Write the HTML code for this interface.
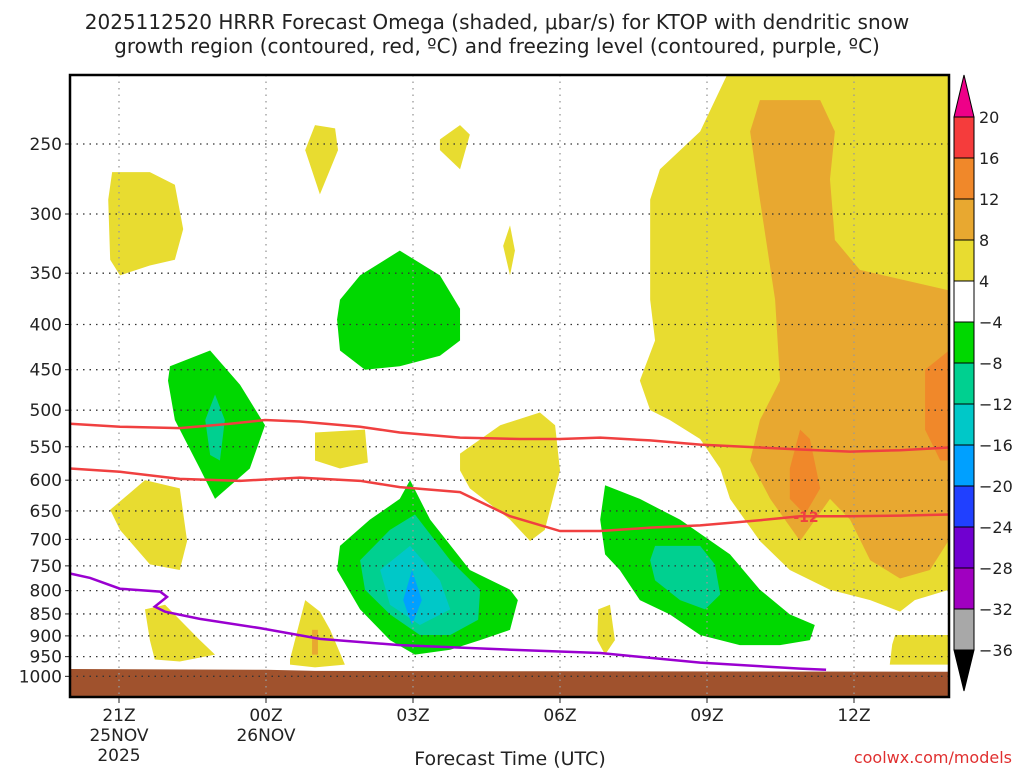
<!DOCTYPE html>
<html><head><meta charset="utf-8"><style>
body{margin:0;background:#fff;width:1024px;height:768px;overflow:hidden;font-family:"Liberation Sans","DejaVu Sans",sans-serif}
svg text{font-family:"DejaVu Sans","Liberation Sans",sans-serif}
</style></head><body>
<svg id="chart" width="1024" height="768" xmlns="http://www.w3.org/2000/svg">
<text x="497" y="29" font-size="20" text-anchor="middle" fill="#222">2025112520 HRRR Forecast Omega (shaded, μbar/s) for KTOP with dendritic snow</text>
<text x="497" y="53" font-size="20" text-anchor="middle" fill="#222">growth region (contoured, red, ºC) and freezing level (contoured, purple, ºC)</text>
<g id="fills"></g><g id="grid"></g><g id="lines"></g><g id="axes"></g><g id="cbar"></g>
<text x="510" y="765" font-size="19" text-anchor="middle" fill="#222">Forecast Time (UTC)</text>
<text x="1012" y="763" font-size="16" text-anchor="end" fill="#e03030">coolwx.com/models</text>
</svg>
<script>
const X0=70,X1=949,Y0=75,Y1=697;
function xs(h){return X0+49*h;}
function ys(p){return 144+384*Math.log(p/250);}
const pTicks=[250,300,350,400,450,500,550,600,650,700,750,800,850,900,950,1000];
const tHours=[1,4,7,10,13,16];
const tLabels=[["21Z","25NOV","2025"],["00Z","26NOV"],["03Z"],["06Z"],["09Z"],["12Z"]];
const cbLevels=["20","16","12","8","4","\u22124","\u22128","\u221212","\u221216","\u221220","\u221224","\u221228","\u221232","\u221236"];
const cbColors=["#f53c3c","#f0882a","#e8a830","#e8dc30","#ffffff","#00d800","#00d090","#00c8c8","#00a0ff","#2040ff","#7000d0","#a000c0","#a8a8a8"];
const C={y:"#e8dc30",o:"#e8a830",r:"#f0882a",g:"#00d800",m:"#00d090",c:"#00c8c8",b:"#00a0ff"};
const regions=[
["y",[[13.57,200],[17.94,200],[17.94,798],[17.24,820],[16.94,845],[16.33,820],[15.51,798],[14.69,758],[14.08,703],[13.47,630],[13.27,582],[12.86,539],[12.24,513],[11.84,500],[11.63,463],[11.94,417],[11.84,375],[11.84,289],[12.04,267],[12.86,242]]],
["o",[[14.08,223],[15.31,223],[15.61,242],[15.51,274],[15.61,321],[16.12,347],[17.94,366],[17.94,701],[17.55,758],[16.94,775],[16.33,739],[15.92,665],[15.51,630],[14.9,703],[14.29,630],[13.88,570],[14.08,513],[14.49,463],[14.39,375],[14.08,289],[13.88,242]]],
["r",[[17.94,428],[17.45,450],[17.45,526],[17.76,570],[17.94,570]]],
["r",[[14.9,526],[14.69,582],[14.69,630],[15.0,656],[15.31,613],[15.1,539]]],
["y",[[0.86,269],[1.63,269],[2.14,278],[2.31,312],[2.14,338],[1.63,343],[1.02,352],[0.82,338],[0.78,289]]],
["y",[[5.0,238],[5.41,240],[5.47,254],[5.1,285],[4.8,254]]],
["y",[[7.55,247],[7.96,238],[8.16,244],[7.96,267],[7.55,254]]],
["y",[[8.98,309],[9.08,330],[8.98,352],[8.84,326]]],
["y",[[5.0,530],[6.02,526],[6.08,573],[5.51,582],[5.0,570]]],
["y",[[7.96,560],[8.78,520],[9.59,503],[9.9,520],[10.0,585],[9.69,683],[9.39,703],[8.98,665],[8.16,613],[7.96,585]]],
["y",[[0.82,648],[1.53,600],[2.24,613],[2.39,703],[2.24,758],[1.63,747],[1.02,683]]],
["y",[[1.53,840],[1.94,830],[2.65,910],[2.96,945],[2.24,962],[1.73,957],[1.63,910]]],
["y",[[4.49,957],[4.8,820],[5.1,845],[5.31,886],[5.61,970],[5.0,977],[4.49,970]]],
["o",[[4.94,886],[5.06,886],[5.06,945],[4.94,945]]],
["y",[[10.78,840],[11.02,830],[11.12,910],[10.92,945],[10.76,910]]],
["y",[[16.84,898],[17.94,898],[17.94,970],[16.73,970],[16.78,920]]],
["g",[[5.51,375],[5.92,352],[6.73,330],[7.55,352],[7.96,384],[7.96,417],[7.55,434],[6.73,446],[6.02,450],[5.51,428],[5.45,395]]],
["g",[[2.04,446],[2.86,428],[3.47,468],[3.98,520],[3.67,582],[2.96,630],[2.65,582],[2.14,513],[2.0,463]]],
["m",[[2.96,480],[3.16,513],[3.06,570],[2.86,562],[2.76,513]]],
["g",[[5.51,712],[6.12,665],[6.73,630],[6.94,600],[7.35,665],[8.16,758],[8.98,798],[9.14,820],[8.98,886],[8.37,910],[7.76,933],[7.04,945],[6.53,910],[5.92,840],[5.45,758]]],
["m",[[5.92,739],[6.53,683],[7.04,656],[7.76,739],[8.37,798],[8.33,863],[7.76,898],[7.14,898],[6.53,851],[6.02,798]]],
["c",[[6.33,758],[6.94,712],[7.55,779],[7.76,840],[7.14,875],[6.53,830]]],
["b",[[6.98,758],[7.18,820],[6.98,875],[6.80,820]]],
["g",[[10.82,665],[10.92,608],[11.63,630],[12.45,665],[13.47,728],[14.08,798],[14.69,851],[15.2,875],[15.1,910],[14.49,922],[13.67,922],[12.86,898],[12.24,851],[11.63,820],[11.22,758],[10.92,728]]],
["m",[[11.94,712],[12.86,712],[13.16,747],[13.27,808],[12.96,840],[12.45,820],[11.94,779],[11.84,739]]]
];
const dgzUpperH=[0,1.02,2.24,3.27,3.98,4.69,5.92,6.73,7.96,9.18,10.0,10.82,11.84,12.86,14.08,14.9,15.92,16.94,17.94];
const dgzUpperP=[518,522,524,518,513,515,522,530,537,539,539,537,541,547,551,554,557,555,551];
const dgzLowerH=[0,1.02,2.24,3.47,4.69,5.92,6.73,7.96,8.98,10.0,10.82,11.84,12.86,14.08,14.9,15.92,16.94,17.94];
const dgzLowerP=[582,587,598,601,596,601,611,619,659,685,685,679,675,666,659,659,658,656];
const frzH=[0,0.41,1.02,1.84,1.98,1.73,1.94,2.65,3.88,5.1,6.73,8.78,10.82,12.86,14.9,15.43];
const frzP=[765,774,796,802,813,834,845,861,882,907,922,932,941,965,980,983];
const sfcH=[0,4,5,10,17.94];
const sfcP=[981,983,986,987,988];
const NS="http://www.w3.org/2000/svg";
function mk(tag,attrs,parent){const e=document.createElementNS(NS,tag);for(const k in attrs)e.setAttribute(k,attrs[k]);parent.appendChild(e);return e;}
const fills=document.getElementById('fills'),grid=document.getElementById('grid'),lines=document.getElementById('lines'),axes=document.getElementById('axes'),cb=document.getElementById('cbar');
const clip=mk('clipPath',{id:'plotclip'},fills);
mk('rect',{x:X0,y:Y0,width:X1-X0,height:Y1-Y0},clip);
const fg=mk('g',{'clip-path':'url(#plotclip)'},fills);
regions.forEach((r,i)=>{
 const pg=mk('polygon',{points:r[1].map(q=>xs(q[0])+','+ys(q[1])).join(' '),fill:C[r[0]]},fg);
 
 
});
let gp=sfcH.map((h,i)=>xs(h)+','+ys(sfcP[i])).join(' ')+' '+X1+','+Y1+' '+X0+','+Y1;
const gr=mk('polygon',{points:gp,fill:'#a0522d'},fg);


pTicks.forEach(p=>{
 const l=mk('line',{x1:X0,x2:X1,y1:ys(p),y2:ys(p),stroke:'#333','stroke-width':1.3,'stroke-dasharray':'1.5,5'},grid);
 
 
 const t=mk('text',{x:62,y:ys(p)+6,'font-size':17,'text-anchor':'end',fill:'#222'},axes);t.textContent=p;
 
 
 mk('line',{x1:X0-5,x2:X0,y1:ys(p),y2:ys(p),stroke:'#222'},axes);
});
tHours.forEach((h,i)=>{
 const l=mk('line',{x1:xs(h),x2:xs(h),y1:Y0,y2:Y1,stroke:'#999','stroke-width':1.3,'stroke-dasharray':'1.5,5'},grid);
 
 
 mk('line',{x1:xs(h),x2:xs(h),y1:Y1,y2:Y1+6,stroke:'#222'},axes);
 tLabels[i].forEach((s,j)=>{const t=mk('text',{x:xs(h),y:Y1+24+j*20,'font-size':17,'text-anchor':'middle',fill:'#222'},axes);t.textContent=s;
 
 });
});
function line(H,P,col,name){const pl=mk('polyline',{points:H.map((h,i)=>xs(h)+','+ys(P[i])).join(' '),fill:'none',stroke:col,'stroke-width':2.5},lines);
 
 }
line(dgzUpperH,dgzUpperP,'#f04040','dgz-upper-contour');
line(dgzLowerH,dgzLowerP,'#f04040','dgz-lower-contour');
line(frzH,frzP,'#9a00d0','freezing-level-line');
const lb=mk('text',{x:806,y:ys(659)+6,'font-size':14,'text-anchor':'middle',fill:'#f04040','font-weight':'bold'},lines);lb.textContent='-12';


const fr=mk('rect',{x:X0,y:Y0,width:X1-X0,height:Y1-Y0,fill:'none',stroke:'#000','stroke-width':2.5},axes);


const cx=954,cw=20,cbTop=117,step=41;
const tri=mk('polygon',{points:`${cx},${cbTop} ${cx+cw},${cbTop} ${cx+cw/2},75`,fill:'#ee0088',stroke:'#000'},cb);


cbColors.forEach((c,i)=>{const r=mk('rect',{x:cx,y:cbTop+i*step,width:cw,height:step,fill:c,stroke:'#000','stroke-width':1},cb);
 
 });
const cbBot=cbTop+cbColors.length*step;
const tri2=mk('polygon',{points:`${cx},${cbBot} ${cx+cw},${cbBot} ${cx+cw/2},691`,fill:'#000',stroke:'#000'},cb);


cbLevels.forEach((s,i)=>{const t=mk('text',{x:979,y:cbTop+i*step+6,'font-size':16,fill:'#222'},cb);t.textContent=s;
 
 });
</script>
</body></html>
